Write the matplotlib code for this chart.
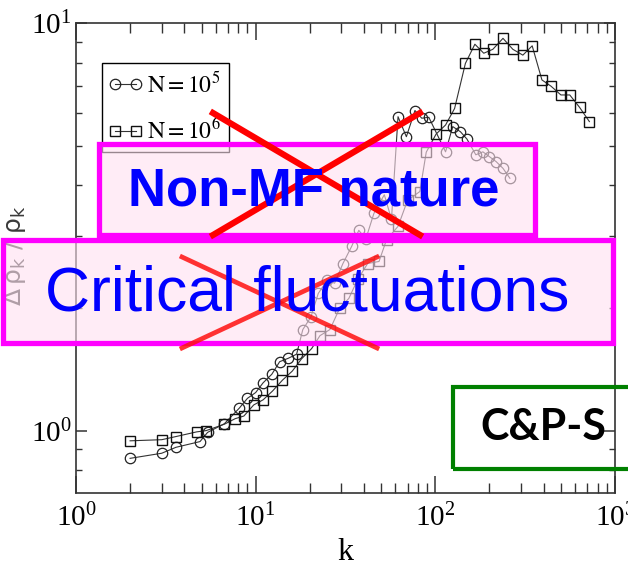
import numpy as np
import matplotlib.pyplot as plt
from matplotlib.patches import Rectangle
from matplotlib.lines import Line2D
from matplotlib.legend_handler import HandlerLine2D

plt.rcParams['mathtext.fontset'] = 'stix'
plt.rcParams['font.family'] = ['Liberation Serif', 'DejaVu Serif']

# N = 10^5 (circles)
k_n5 = [2, 3, 3.6, 4.9, 5.4, 6.7, 8.1, 9.0, 10, 11, 12.3, 13.6, 15.2, 16.9,
        18.3, 20.3, 22.3, 25, 27.5, 30.6, 34.2, 37.5, 41, 45.5, 52, 57, 62,
        69, 77, 84, 92, 114, 125, 138, 150, 168, 184, 200, 218, 238, 260]
d_n5 = [0.855, 0.88, 0.91, 0.94, 0.99, 1.04, 1.135, 1.2, 1.24, 1.31, 1.375,
        1.476, 1.505, 1.54, 1.77, 1.9, 2.17, 2.34, 2.3, 2.57, 2.83, 3.1, 2.95,
        3.41, 3.79, 3.3, 5.89, 5.26, 6.1, 5.84, 5.87, 4.83, 5.57, 5.41, 5.19,
        4.75, 4.83, 4.7, 4.57, 4.4, 4.16]

# N = 10^6 (squares)
k_n6 = [2, 3, 3.6, 4.7, 5.3, 6.7, 7.7, 8.6, 9.75, 11, 12.4, 14.1, 16, 18,
        20.5, 22.8, 25.9, 29.4, 33, 37, 42, 48.6, 53.5, 62, 70, 82, 89, 101,
        114, 128, 147, 166, 186, 209, 238, 270, 307, 346, 392, 440, 500, 560,
        635, 720]
d_n6 = [0.944, 0.95, 0.967, 0.993, 1.0, 1.037, 1.07, 1.086, 1.156, 1.19, 1.25,
        1.33, 1.4, 1.5, 1.59, 1.71, 1.77, 2.0, 2.11, 2.35, 2.57, 2.6, 2.94,
        3.17, 3.67, 3.86, 4.82, 5.34, 5.62, 6.17, 7.96, 8.87, 8.43, 8.62, 9.17,
        8.62, 8.34, 8.79, 7.25, 7.0, 6.66, 6.66, 6.21, 5.73]

W, H = 628, 566
fig = plt.figure(figsize=(W / 100, H / 100), dpi=100)
ax = fig.add_axes([76 / W, 1 - 493 / H, (615 - 76) / W, (493 - 23) / H])


def px(x, y):
    # pixel position (from top-left) -> figure fraction
    return x / W, 1 - y / H


ax.plot(k_n5, d_n5, '-', color='#333333', lw=0.8, marker='o', ms=7.5,
        mfc='none', mec='#222222', mew=0.9, label=r'$\mathrm{N = 10^{5}}$')
ax.plot(k_n6, d_n6, '-', color='#333333', lw=0.8, marker='s', ms=7,
        mfc='none', mec='#111111', mew=1.0, label=r'$\mathrm{N = 10^{6}}$')

ax.set_xscale('log')
ax.set_yscale('log')
ax.set_xlim(1, 1000)
ax.set_ylim(0.703, 10)

ax.tick_params(which='both', direction='in', top=True, right=True,
               color='#333333', labelsize=21)
ax.tick_params(axis='x', which='major', length=12, width=1.1, pad=8)
ax.tick_params(axis='x', which='minor', length=7.5, width=1.0)
ax.tick_params(axis='y', which='major', length=8, width=1.1, pad=3)
ax.tick_params(axis='y', which='minor', length=4.5, width=1.0)
ax.yaxis.set_minor_formatter(plt.NullFormatter())
for s in ax.spines.values():
    s.set_linewidth(1.2)
    s.set_color('#333333')

ax.set_xlabel('k', fontsize=23, labelpad=4)
ax.set_ylabel(r'$\Delta\,\mathrm{\rho}_\mathrm{k}\ /\ \mathrm{\rho}_\mathrm{k}$',
              fontsize=18, color='#3a3a3a', math_fontfamily='dejavusans')
ax.yaxis.set_label_coords(-0.089, 0.506)

leg = ax.legend(loc='upper left', bbox_to_anchor=(0.048, 0.914),
                borderaxespad=0, fontsize=17, numpoints=2, handlelength=1.3,
                handletextpad=0.25, fancybox=False, edgecolor='black',
                framealpha=1, borderpad=0.35, labelspacing=0.9,
                handler_map={Line2D: HandlerLine2D(marker_pad=0.2)})
leg.get_frame().set_linewidth(1.0)

# overlay boxes
pink = (1.0, 0.88, 0.94, 0.6)
family_sans = ['Liberation Sans', 'DejaVu Sans']
x0, y0 = px(99, 235)
x1, y1 = px(535, 144)
fig.add_artist(Rectangle((x0, y0), x1 - x0, y1 - y0, transform=fig.transFigure,
                         facecolor=pink, edgecolor='#ff00ff', lw=3.8))
fig.text(*px(314, 192), 'Non-MF nature', color='#0000ff', fontsize=38,
         fontweight='bold', family=family_sans, ha='center', va='center')

x0, y0 = px(3, 343)
x1, y1 = px(613, 240)
fig.add_artist(Rectangle((x0, y0), x1 - x0, y1 - y0, transform=fig.transFigure,
                         facecolor=pink, edgecolor='#ff00ff', lw=3.8))
fig.text(*px(307, 294), 'Critical fluctuations', color='#0000ff', fontsize=45,
         family=family_sans, ha='center', va='center')

# red crosses
for (a, b), (c, d) in [((213, 113), (420, 235)), ((420, 113), (213, 235))]:
    xa, ya = px(a, b)
    xb, yb = px(c, d)
    fig.add_artist(Line2D([xa, xb], [ya, yb], transform=fig.transFigure,
                          color='#ff0000', lw=4.5))
for (a, b), (c, d) in [((182, 257), (377, 348)), ((182, 348), (377, 257))]:
    xa, ya = px(a, b)
    xb, yb = px(c, d)
    fig.add_artist(Line2D([xa, xb], [ya, yb], transform=fig.transFigure,
                          color='#ff1010', lw=3.4, alpha=0.85))

# green tag box
x0, y0 = px(453, 469)
x1, y1 = px(650, 387)
fig.add_artist(Rectangle((x0, y0), x1 - x0, y1 - y0, transform=fig.transFigure,
                         facecolor='none', edgecolor='#008000', lw=3))
fig.text(*px(543, 427), 'C&P-S', color='black', fontsize=31, fontweight='bold',
         family=['Lato', 'DejaVu Sans'], ha='center', va='center')

fig.savefig('out.png', dpi=100)
